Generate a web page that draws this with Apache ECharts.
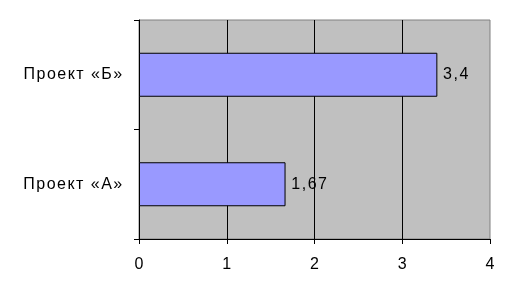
<!DOCTYPE html>
<html>
<head>
<meta charset="utf-8">
<script src="https://cdn.jsdelivr.net/npm/echarts@6/dist/echarts.min.js"></script>
<style>
html,body{margin:0;padding:0;background:#fff;}
#chart{width:520px;height:298px;}
</style>
</head>
<body>
<div id="chart"></div>
<script>
var categories = ['Проект «А»', 'Проект «Б»'];
var values = [1.67, 3.4];
var xTicks = [0, 1, 2, 3, 4];

var FONT = 'Liberation Sans, Arial, sans-serif';
function spaced(s) {
  return String(s).split('').map(function (c) { return '{c|' + c + '}'; }).join('');
}
var richSpaced = { c: { padding: [0, 0.75, 0, 0.75], fontSize: 16, color: '#000', fontFamily: FONT } };

var chart = echarts.init(document.getElementById('chart'), null, { renderer: 'canvas' });
chart.setOption({
  animation: false,
  backgroundColor: '#ffffff',
  grid: {
    left: 139, right: 30, top: 20, bottom: 59,
    show: true, backgroundColor: '#C0C0C0', borderColor: '#808080', borderWidth: 1
  },
  xAxis: {
    type: 'value', min: xTicks[0], max: xTicks[xTicks.length - 1], interval: 1,
    axisLine: { show: true, lineStyle: { color: '#000', width: 1 } },
    axisTick: { show: true, length: 5, lineStyle: { color: '#000' } },
    axisLabel: { margin: 18, fontSize: 16, color: '#000', fontFamily: FONT,
      formatter: function (v) { return String(v); } },
    splitLine: { show: true, showMinLine: false, showMaxLine: false, lineStyle: { color: '#000', width: 1 } }
  },
  yAxis: {
    type: 'category', data: categories,
    axisLine: { show: true, lineStyle: { color: '#000', width: 1 } },
    axisTick: { show: true, length: 5, lineStyle: { color: '#000' } },
    axisLabel: { margin: 16, fontSize: 16, color: '#000', fontFamily: FONT,
      formatter: function (v) { return spaced(v); }, rich: richSpaced },
    splitLine: { show: false }
  },
  series: [{
    type: 'bar', data: values, barWidth: 44,
    itemStyle: { color: '#9999FF', borderColor: '#000', borderWidth: 1 },
    label: {
      show: true, position: 'right', distance: 5,
      formatter: function (p) { return spaced(String(p.value).replace('.', ',')); },
      rich: richSpaced
    }
  }]
});
</script>
</body>
</html>
